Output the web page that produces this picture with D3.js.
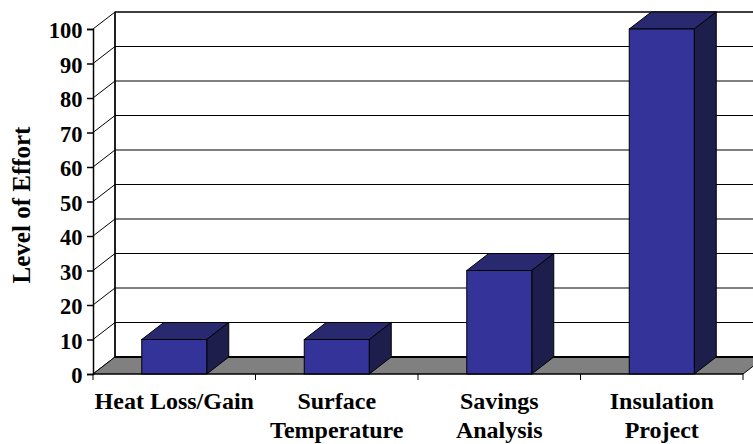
<!DOCTYPE html>
<html>
<head>
<meta charset="utf-8">
<script src="https://cdn.jsdelivr.net/npm/d3@7"></script>
<style>
  html, body { margin: 0; padding: 0; background: #fff; }
  svg { display: block; }
  text { font-family: "Liberation Serif", "Times New Roman", serif; font-weight: bold; fill: #000; }
</style>
</head>
<body>
<svg id="chart" width="753" height="444"></svg>
<script>
// Chart data
const categories = [["Heat Loss/Gain"], ["Surface", "Temperature"], ["Savings", "Analysis"], ["Insulation", "Project"]];
const values = [10, 10, 30, 100];
const yTicks = [0, 10, 20, 30, 40, 50, 60, 70, 80, 90, 100];
const yTitle = "Level of Effort";

const plotLeft = 93, plotRight = 743, plotBottom = 374, plotTop = 29;
const dx = 22, dy = -17; // depth offset of the 3D box

const svg = d3.select("#chart");

const keys = categories.map(c => c.join(" "));
const x = d3.scaleBand().domain(keys).range([plotLeft, plotRight]).paddingInner(0.6).paddingOuter(0.3);
const y = d3.scaleLinear().domain([0, 100]).range([plotBottom, plotTop]);
const pts = a => a.map(p => p.join(",")).join(" ");

// Back wall
svg.append("rect")
  .attr("x", plotLeft + dx).attr("y", y(100) + dy)
  .attr("width", plotRight - plotLeft).attr("height", y(0) - y(100))
  .attr("fill", "#fff").attr("stroke", "#000").attr("stroke-width", 1);

// Gridlines on back wall and left wall
const grid = svg.append("g");
yTicks.forEach(t => {
  const yy = y(t);
  grid.append("line")
    .attr("x1", plotLeft + dx).attr("x2", plotRight + dx)
    .attr("y1", yy + dy).attr("y2", yy + dy)
    .attr("stroke", "#000").attr("stroke-width", 1);
  grid.append("line")
    .attr("x1", plotLeft).attr("y1", yy)
    .attr("x2", plotLeft + dx).attr("y2", yy + dy)
    .attr("stroke", "#000").attr("stroke-width", 1);
});

// Floor
svg.append("polygon")
  .attr("points", pts([[plotLeft, y(0)], [plotRight, y(0)], [plotRight + dx, y(0) + dy], [plotLeft + dx, y(0) + dy]]))
  .attr("fill", "#808080").attr("stroke", "#000").attr("stroke-width", 1);
svg.append("line")
  .attr("x1", plotLeft + dx).attr("x2", plotRight + dx)
  .attr("y1", y(0) + dy).attr("y2", y(0) + dy)
  .attr("stroke", "#000").attr("stroke-width", 2);

// Back wall left edge
svg.append("line")
  .attr("x1", plotLeft + dx).attr("x2", plotLeft + dx)
  .attr("y1", y(100) + dy).attr("y2", y(0) + dy)
  .attr("stroke", "#000").attr("stroke-width", 1.5);

// Bars
const bw = x.bandwidth();
svg.append("g").selectAll("g").data(values).join("g").each(function (v, i) {
  const g = d3.select(this);
  const x0 = x(keys[i]);
  const yv = y(v), y0 = y(0);
  g.append("polygon")
    .attr("points", pts([[x0, yv], [x0 + dx, yv + dy], [x0 + bw + dx, yv + dy], [x0 + bw, yv]]))
    .attr("fill", "#29296f").attr("stroke", "#000").attr("stroke-width", 1);
  g.append("polygon")
    .attr("points", pts([[x0 + bw, yv], [x0 + bw + dx, yv + dy], [x0 + bw + dx, y0 + dy], [x0 + bw, y0]]))
    .attr("fill", "#1e1e4d").attr("stroke", "#000").attr("stroke-width", 1);
  g.append("rect")
    .attr("x", x0).attr("y", yv).attr("width", bw).attr("height", y0 - yv)
    .attr("fill", "#333399").attr("stroke", "#000").attr("stroke-width", 1);
});

// Y axis
const yAxis = svg.append("g").attr("transform", `translate(${plotLeft},0)`)
  .call(d3.axisLeft(y).tickValues(yTicks).tickSize(6).tickPadding(4.5).tickFormat(d3.format("d")));
yAxis.select(".domain").attr("stroke", "#000").attr("stroke-width", 1.5);
yAxis.selectAll(".tick line").attr("stroke", "#000").attr("stroke-width", 1.5);
yAxis.selectAll(".tick text")
  .attr("font-family", "Liberation Serif, Times New Roman, serif")
  .attr("font-weight", "bold").attr("font-size", 22.5).attr("dy", "0.38em").attr("fill", "#000");

// X axis
svg.append("line")
  .attr("x1", plotLeft).attr("x2", plotRight).attr("y1", y(0)).attr("y2", y(0))
  .attr("stroke", "#000").attr("stroke-width", 1);
const step = x.step();
d3.range(categories.length + 1).forEach(i => {
  const xx = plotLeft + i * step;
  svg.append("line")
    .attr("x1", xx).attr("x2", xx).attr("y1", y(0)).attr("y2", y(0) + 6)
    .attr("stroke", "#000").attr("stroke-width", 1);
});

// Category labels
categories.forEach((lines, i) => {
  const cx = x(keys[i]) + bw / 2;
  const t = svg.append("text").attr("text-anchor", "middle").attr("font-size", 24);
  lines.forEach((s, j) => {
    t.append("tspan").attr("x", cx).attr("y", 408.5 + j * 29.3).text(s);
  });
});

// Y axis title
svg.append("text")
  .attr("transform", "translate(30,205) rotate(-90)")
  .attr("text-anchor", "middle").attr("font-size", 25)
  .text(yTitle);
</script>
</body>
</html>
